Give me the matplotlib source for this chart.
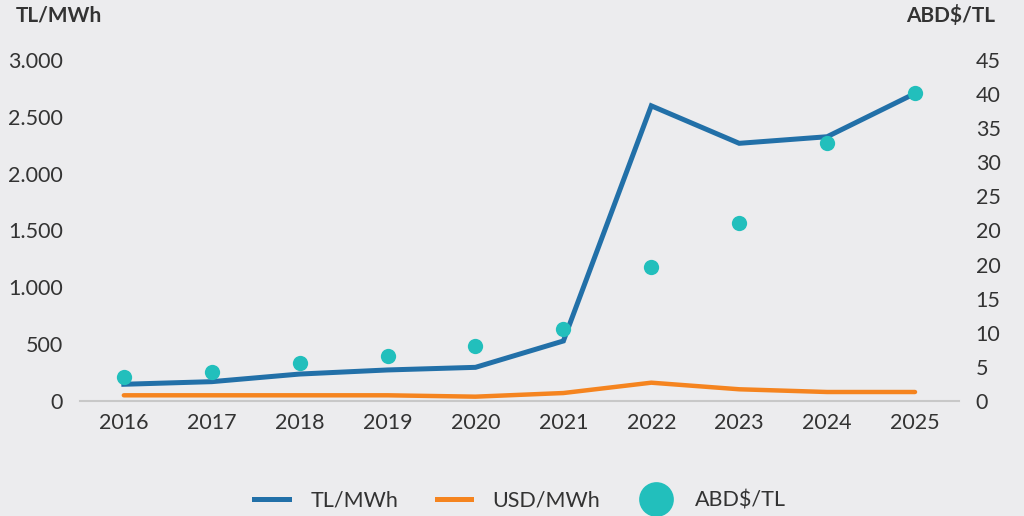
import matplotlib.pyplot as plt
from matplotlib.lines import Line2D
import numpy as np

years = ["2016", "2017", "2018", "2019", "2020", "2021", "2022", "2023", "2024", "2025"]
tl_mwh = [147, 170, 237, 273, 296, 528, 2597, 2267, 2325, 2706]
usd_mwh = [50, 50, 50, 50, 38, 70, 161, 103, 79, 79]
usd_tl = [3.13, 3.87, 5.05, 5.94, 7.30, 9.56, 17.64, 23.49, 34.0, 40.7]

left_ticks = [0, 500, 1000, 1500, 2000, 2500, 3000]
left_labels = ["0", "500", "1.000", "1.500", "2.000", "2.500", "3.000"]
right_labels = ["0", "5", "10", "15", "20", "20", "25", "30", "35", "40", "45"]

bg = "#ECECEE"
blue = "#2270A8"
orange = "#F5841F"
teal = "#22BFBC"
txt = "#333333"

plt.rcParams["font.family"] = ["Lato", "DejaVu Sans"]

fig = plt.figure(figsize=(10.24, 5.16), dpi=100, facecolor=bg)
ax = fig.add_axes([0.078, 0.2229, 0.8585, 0.6608], facecolor=bg)
ax2 = ax.twinx()

x = np.arange(len(years))
ax.plot(x, tl_mwh, color=blue, lw=3.6, solid_joinstyle="miter", zorder=3)
ax.plot(x, usd_mwh, color=orange, lw=3.2, solid_capstyle="round", zorder=3)
ax2.plot(x, usd_tl, "o", color=teal, ms=11, mec="none", zorder=4)

ax.set_xlim(-0.5, 9.5)
ax.set_ylim(0, 3000)
ax2.set_ylim(0, 45)

ax.set_xticks(x)
ax.set_xticklabels(years)
ax.set_yticks(left_ticks)
ax.set_yticklabels(left_labels)
ax2.set_yticks(np.linspace(0, 45, 11))
ax2.set_yticklabels(right_labels)

for a in (ax, ax2):
    for s in a.spines.values():
        s.set_visible(False)
    a.tick_params(length=0, labelsize=15.5, colors=txt)
ax.spines["bottom"].set_visible(True)
ax.spines["bottom"].set_color("#C8C8C8")
ax.spines["bottom"].set_linewidth(1.5)
ax.tick_params(axis="x", pad=9)
ax.tick_params(axis="y", pad=12)
ax2.tick_params(axis="y", pad=12)

fig.text(0.015, 0.97, "TL/MWh", fontsize=15, fontweight="bold", color=txt, va="center", ha="left")
fig.text(0.972, 0.97, "ABD$/TL", fontsize=15, fontweight="bold", color=txt, va="center", ha="right")

handles = [
    Line2D([], [], color=blue, lw=3.6),
    Line2D([], [], color=orange, lw=3.6),
    Line2D([], [], marker="o", ls="none", color=teal, ms=25, mec="none"),
]
fig.legend(handles, ["TL/MWh", "USD/MWh", "ABD$/TL"], loc="center", bbox_to_anchor=(0.508, 0.03),
           ncol=3, frameon=False, fontsize=15.5, handlelength=1.6, handletextpad=1.0,
           columnspacing=1.8, labelcolor=txt)

fig.savefig("out.png", dpi=100, facecolor=bg)
